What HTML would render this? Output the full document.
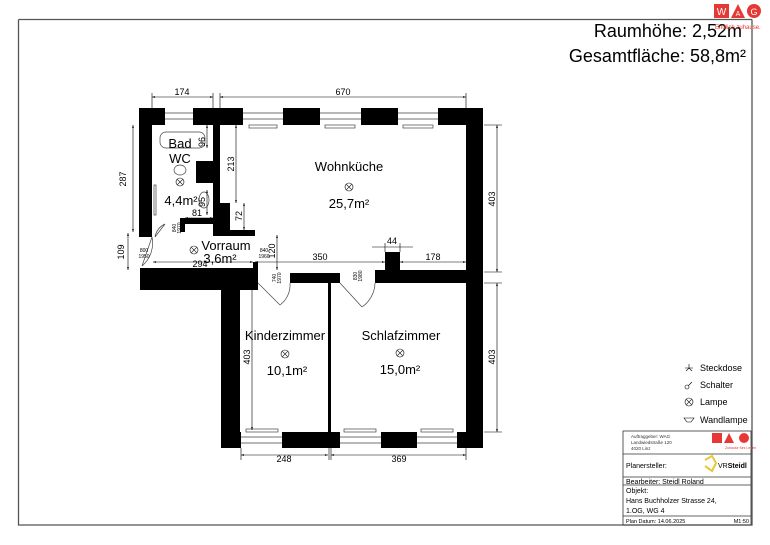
<!DOCTYPE html>
<html><head><meta charset="utf-8"><style>
html,body{margin:0;padding:0;background:#fff;}
svg{display:block;font-family:"Liberation Sans",sans-serif;}
</style></head><body>
<svg width="770" height="545" viewBox="0 0 770 545" xmlns="http://www.w3.org/2000/svg">
<defs>
<marker id="a" markerWidth="6" markerHeight="6" refX="5" refY="3" orient="auto-start-reverse"><path d="M0,1.5 L5,3 L0,4.5z" fill="#000"/></marker>
<g id="l" fill="none" stroke="#000" stroke-width="0.6"><circle cx="0" cy="0" r="4"/><path d="M-2.8,-2.8 L2.8,2.8 M-2.8,2.8 L2.8,-2.8"/></g>
</defs>
<!-- frame -->
<path d="M18.5,19.5 H752 M18.5,19.5 V525 H752 V19.5" fill="none" stroke="#555" stroke-width="1.3"/>
<!-- header -->
<text x="742" y="37" font-size="18" text-anchor="end">Raumhöhe: 2,52m</text>
<text x="746" y="62" font-size="18" text-anchor="end">Gesamtfläche: 58,8m²</text>
<rect x="714" y="4" width="15" height="14" fill="#e53935"/><text x="721.5" y="15" font-size="10" fill="#fff" text-anchor="middle">W</text>
<path d="M731,18 L738,4 L745,18z" fill="#e53935"/><text x="738" y="16" font-size="7" fill="#fff" text-anchor="middle">A</text>
<circle cx="754" cy="11" r="7" fill="#e53935"/><text x="754" y="15" font-size="9" fill="#fff" text-anchor="middle">G</text>
<text x="715" y="29" font-size="6" fill="#e53935">Endlich zuhause.</text>

<g fill="#000">
<rect x="139" y="108" width="26" height="17"/>
<rect x="193" y="108" width="50" height="17"/>
<rect x="283" y="108" width="37" height="17"/>
<rect x="361" y="108" width="37" height="17"/>
<rect x="438" y="108" width="45" height="17"/>
<rect x="466" y="108" width="17" height="340"/>
<rect x="457" y="432" width="26" height="16"/>
<rect x="139" y="108" width="13" height="129"/>
<rect x="213" y="108" width="7" height="95"/>
<rect x="196" y="161" width="17" height="22"/>
<rect x="213" y="203" width="17" height="32"/>
<rect x="213" y="230" width="42" height="6"/>
<rect x="180" y="218" width="35" height="6"/>
<rect x="180" y="218" width="5" height="14"/>
<rect x="140" y="268" width="118" height="22"/>
<rect x="253" y="262" width="5" height="8"/>
<rect x="290" y="273" width="50" height="10"/>
<rect x="375" y="270" width="91" height="13"/>
<rect x="385" y="252" width="15" height="20"/>
<rect x="221" y="283" width="19" height="165"/>
<rect x="221" y="432" width="20" height="16"/>
<rect x="282" y="432" width="58" height="16"/>
<rect x="381" y="432" width="36" height="16"/>
<rect x="328" y="283" width="3" height="149"/>
</g>
<g fill="none" stroke="#444" stroke-width="0.7">
<path d="M165,113 H193 M165,119 H193 M243,113 H283 M243,119 H283 M320,113 H361 M320,119 H361 M398,113 H438 M398,119 H438"/>
<rect x="249" y="125" width="28" height="3"/><rect x="325" y="125" width="30" height="3"/><rect x="403" y="125" width="30" height="3"/>
<path d="M241,437 H282 M241,443 H282 M340,437 H381 M340,443 H381 M417,437 H457 M417,443 H457"/>
<rect x="246" y="429" width="32" height="3"/><rect x="344" y="429" width="32" height="3"/><rect x="421" y="429" width="32" height="3"/>
<rect x="160" y="132" width="45" height="16" rx="6"/>
<ellipse cx="180" cy="170" rx="6" ry="5"/>
<rect x="154" y="185" width="2" height="30"/>
<path d="M152,237 L142,266 M142,266 A30,30 0 0 0 152,237"/>
<path d="M165,224 L155,237 M155,237 A18,18 0 0 1 165,224"/>
<path d="M258,283 L280,305 M280,305 A25,25 0 0 0 290,283"/>
<path d="M340,283 L362,307 M362,307 A30,30 0 0 0 375,283"/>
<ellipse cx="204" cy="200" rx="5" ry="8"/>
</g>
<g stroke="#000" stroke-width="0.6" fill="none">
<path d="M152,97 H213" marker-start="url(#a)" marker-end="url(#a)"/>
<path d="M220,97 H466" marker-start="url(#a)" marker-end="url(#a)"/>
<path d="M152,93 V108 M213,93 V108 M220,93 V108 M466,93 V108"/>
<path d="M133,125 V232" marker-start="url(#a)" marker-end="url(#a)"/>
<path d="M128,233 V270" marker-start="url(#a)" marker-end="url(#a)"/>
<path d="M497,125 V272" marker-start="url(#a)" marker-end="url(#a)"/>
<path d="M497,283 V432" marker-start="url(#a)" marker-end="url(#a)"/>
<path d="M484,125 H502 M484,272 H502 M484,283 H502 M484,432 H502"/>
<path d="M241,455 H328" marker-start="url(#a)" marker-end="url(#a)"/>
<path d="M331,455 H466" marker-start="url(#a)" marker-end="url(#a)"/>
<path d="M241,448 V460 M329,448 V460 M331,448 V460 M466,448 V460"/>
<path d="M236,125 V203" marker-start="url(#a)" marker-end="url(#a)"/>
<path d="M244,203 V230" marker-start="url(#a)" marker-end="url(#a)"/>
<path d="M277,235 V270" marker-start="url(#a)" marker-end="url(#a)"/>
<path d="M255,262 H385" marker-start="url(#a)" marker-end="url(#a)"/>
<path d="M400,262 H466" marker-start="url(#a)" marker-end="url(#a)"/>
<path d="M372,247 H413 M385,243 V252 M400,243 V252"/>
<path d="M185,218 H213" marker-start="url(#a)" marker-end="url(#a)"/>
<path d="M153,262 H253" marker-start="url(#a)" marker-end="url(#a)"/>
<path d="M207,125 V148" marker-start="url(#a)" marker-end="url(#a)"/>
<path d="M207,190 V215" marker-start="url(#a)" marker-end="url(#a)"/>
<path d="M252,285 V430" marker-start="url(#a)" marker-end="url(#a)"/>
</g>
<g font-size="9" text-anchor="middle">
<text x="182" y="95">174</text><text x="343" y="95">670</text>
<text x="126" y="179" transform="rotate(-90 126 179)">287</text>
<text x="124" y="252" transform="rotate(-90 124 252)">109</text>
<text x="495" y="199" transform="rotate(-90 495 199)">403</text>
<text x="495" y="357" transform="rotate(-90 495 357)">403</text>
<text x="284" y="462">248</text><text x="399" y="462">369</text>
<text x="234" y="164" transform="rotate(-90 234 164)">213</text>
<text x="242" y="216" transform="rotate(-90 242 216)">72</text>
<text x="275" y="251" transform="rotate(-90 275 251)">120</text>
<text x="320" y="260">350</text><text x="433" y="260">178</text>
<text x="392" y="244">44</text><text x="197" y="216">81</text>
<text x="200" y="267">294</text>
<text x="205" y="142" transform="rotate(-90 205 142)">96</text>
<text x="205" y="202" transform="rotate(-90 205 202)">95</text>
<text x="250" y="357" transform="rotate(-90 250 357)">403</text>
</g>
<g font-size="5" text-anchor="middle">
<text x="144" y="252">800</text><text x="144" y="258">1950</text>
<text x="264" y="252">840</text><text x="264" y="258">1960</text>
<text x="176" y="228" transform="rotate(-90 176 228)">840</text><text x="181" y="228" transform="rotate(-90 181 228)">1970</text>
<text x="276" y="278" transform="rotate(-90 276 278)">740</text><text x="281" y="278" transform="rotate(-90 281 278)">1970</text>
<text x="357" y="276" transform="rotate(-90 357 276)">830</text><text x="362" y="276" transform="rotate(-90 362 276)">1980</text>
</g>
<g font-size="13" text-anchor="middle">
<text x="349" y="171">Wohnküche</text><text x="349" y="208">25,7m²</text>
<text x="180" y="148">Bad</text><text x="180" y="163">WC</text><text x="181" y="205">4,4m²</text>
<text x="226" y="250">Vorraum</text><text x="220" y="263">3,6m²</text>
<text x="285" y="340">Kinderzimmer</text><text x="287" y="375">10,1m²</text>
<text x="401" y="340">Schlafzimmer</text><text x="400" y="374">15,0m²</text>
</g>
<use href="#l" x="349" y="187"/><use href="#l" x="180" y="182"/><use href="#l" x="194" y="250"/>
<use href="#l" x="285" y="354"/><use href="#l" x="400" y="353"/><use href="#l" x="689" y="402"/>
<g fill="none" stroke="#000" stroke-width="0.6">
<path d="M685,368 H693 M689,364 V368 M689,368 L686,371 M689,368 L692,371"/>
<circle cx="687" cy="387" r="2"/><path d="M688.5,385.5 L692,382"/>
<path d="M684,418 H694 L691,422 H687z"/>
</g>
<g font-size="9">
<text x="700" y="371">Steckdose</text><text x="700" y="388">Schalter</text>
<text x="700" y="405">Lampe</text><text x="700" y="423">Wandlampe</text>
</g>
<g fill="none" stroke="#333" stroke-width="0.8">
<rect x="623" y="431" width="128" height="94"/>
<path d="M623,454 H751 M623,477 H751 M623,485 H751 M623,516 H751"/>
</g>
<g font-size="4.5" fill="#333"><text x="631" y="438">Auftraggeber: WAG</text><text x="631" y="444">Landwiedstraße 120</text><text x="631" y="450">4020 Linz</text></g>
<rect x="712" y="433" width="10" height="10" fill="#e53935"/>
<path d="M724,443 L729,433 L734,443z" fill="#e53935"/><circle cx="744" cy="438" r="5" fill="#e53935"/>
<text x="725" y="449" font-size="3.5" fill="#e53935">Zuhause fürs Leben</text>
<text x="626" y="468" font-size="7">Planersteller:</text>
<path d="M705,460 L712,456 L716,463 L712,471 L705,466" fill="none" stroke="#e8c83a" stroke-width="2"/>
<text x="718" y="468" font-size="7">VR<tspan font-weight="bold">Steidl</tspan></text>
<text x="626" y="484" font-size="7">Bearbeiter: Steidl Roland</text>
<text x="626" y="493" font-size="7">Objekt:</text>
<text x="626" y="503" font-size="7">Hans Buchholzer Strasse 24,</text>
<text x="626" y="513" font-size="7">1.OG, WG 4</text>
<text x="626" y="523" font-size="5.5">Plan Datum: 14.06.2025</text>
<text x="749" y="523" font-size="5.5" text-anchor="end">M1:50</text>
</svg>
</body></html>
